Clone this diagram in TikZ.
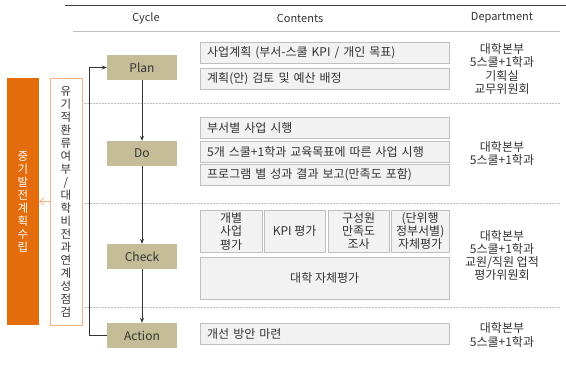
\documentclass[tikz,border=0pt]{standalone}
\usepackage{fontspec}
\setmainfont{Noto Sans CJK KR}
\usetikzlibrary{arrows.meta}
\definecolor{planorange}{HTML}{E46C0A}
\definecolor{lightorange}{HTML}{F4B183}
\definecolor{cyctan}{HTML}{C4BD97}
\definecolor{boxgray}{HTML}{BFBFBF}
\definecolor{boxfill}{HTML}{F2F2F2}
\definecolor{txtgray}{HTML}{333333}
\begin{document}
\begin{tikzpicture}[x=1pt,y=-1pt,
  every node/.style={font=\fontsize{12}{13.3}\selectfont,text=txtgray},
  head/.style={font=\fontsize{11}{13}\selectfont},
  cycbox/.style={fill=cyctan,minimum width=70pt,minimum height=25pt,inner sep=0pt},
  conbox/.style={draw=boxgray,fill=boxfill,anchor=north west,inner sep=0pt,minimum height=21pt},
  wide/.style={text width=235pt,inner xsep=7pt,align=left},
  sepline/.style={boxgray,line width=0.6pt,dash pattern=on 1pt off 0.5pt},
  flow/.style={-{Stealth[length=5pt,width=4pt]},line width=0.8pt,black!80}]
\useasboundingbox (0,0) rectangle (566,367);
\draw[black!75,line width=1pt] (65,5) -- (566,5);
\node[head] (hcycle) at (146,18) {Cycle};
\node[head] (hcontents) at (300,18) {Contents};
\node[head] (hdept) at (502,18) {Department};
\draw[boxgray,line width=0.6pt] (73,31) -- (560,31);
\draw[sepline]
(82,103) -- (560,103)
(82,203) -- (560,203)
(82,307) -- (560,307);
\node[fill=planorange,minimum width=32pt,minimum height=247pt,inner sep=0pt,align=center,text=white,font=\fontsize{11.5}{13}\selectfont] (midplan) at (23,201.5) {중\\기\\발\\전\\계\\획\\수\\립};
\node[draw=lightorange,fill=white,line width=0.8pt,minimum width=32pt,minimum height=247pt,inner sep=0pt,align=center,font=\fontsize{11.5}{13}\selectfont] (review) at (66,201.5) {유\\기\\적\\환\\류\\여\\부\\/\\대\\학\\비\\전\\과\\연\\계\\성\\점\\검};
\draw[lightorange,line width=0.8pt,-{Straight Barb[length=4pt,width=7pt]}] (review.west) -- (midplan.east);
\node[cycbox] (plan) at (142,67.5) {Plan};
\node[cycbox] (do) at (142,153.5) {Do};
\node[cycbox] (check) at (142,256.5) {Check};
\node[cycbox] (action) at (142,335.5) {Action};
\draw[flow] (plan) -- (do);
\draw[flow] (do) -- (check);
\draw[flow] (check) -- (action);
\draw[flow] (action.west) -- ++(-17,0) |- (plan.west);
\node[conbox,wide] (plan1) at (200,42) {사업계획 (부서-스쿨 KPI / 개인 목표)};
\node[conbox,wide] (plan2) at (200,68) {계획(안) 검토 및 예산 배정};
\node[conbox,wide] (do1) at (200,117) {부서별 사업 시행};
\node[conbox,wide] (do2) at (200,141) {5개 스쿨+1학과 교육목표에 따른 사업 시행};
\node[conbox,wide] (do3) at (200,164) {프로그램 별 성과 결과 보고(만족도 포함)};
\node[conbox,minimum width=62pt,minimum height=42pt,align=center] (check1) at (200,210) {개별\\사업\\평가};
\node[conbox,minimum width=61pt,minimum height=42pt,align=center] (check2) at (264,210) {KPI 평가};
\node[conbox,minimum width=61pt,minimum height=42pt,align=center] (check3) at (328,210) {구성원\\만족도\\조사};
\node[conbox,minimum width=58pt,minimum height=42pt,align=center] (check4) at (391,210) {(단위행\\정부서별)\\자체평가};
\node[conbox,minimum width=249pt,minimum height=42pt,align=center] (check5) at (200,257) {대학 자체평가};
\node[conbox,wide] (action1) at (200,323) {개선 방안 마련};
\node[align=center] (dplan) at (502,69) {대학본부\\5스쿨+1학과\\기획실\\교무위원회};
\node[align=center] (ddo) at (502,153.5) {대학본부\\5스쿨+1학과};
\node[align=center] (dcheck) at (502,255.5) {대학본부\\5스쿨+1학과\\교원/직원 업적\\평가위원회};
\node[align=center] (daction) at (502,335) {대학본부\\5스쿨+1학과};
\end{tikzpicture}
\end{document}
